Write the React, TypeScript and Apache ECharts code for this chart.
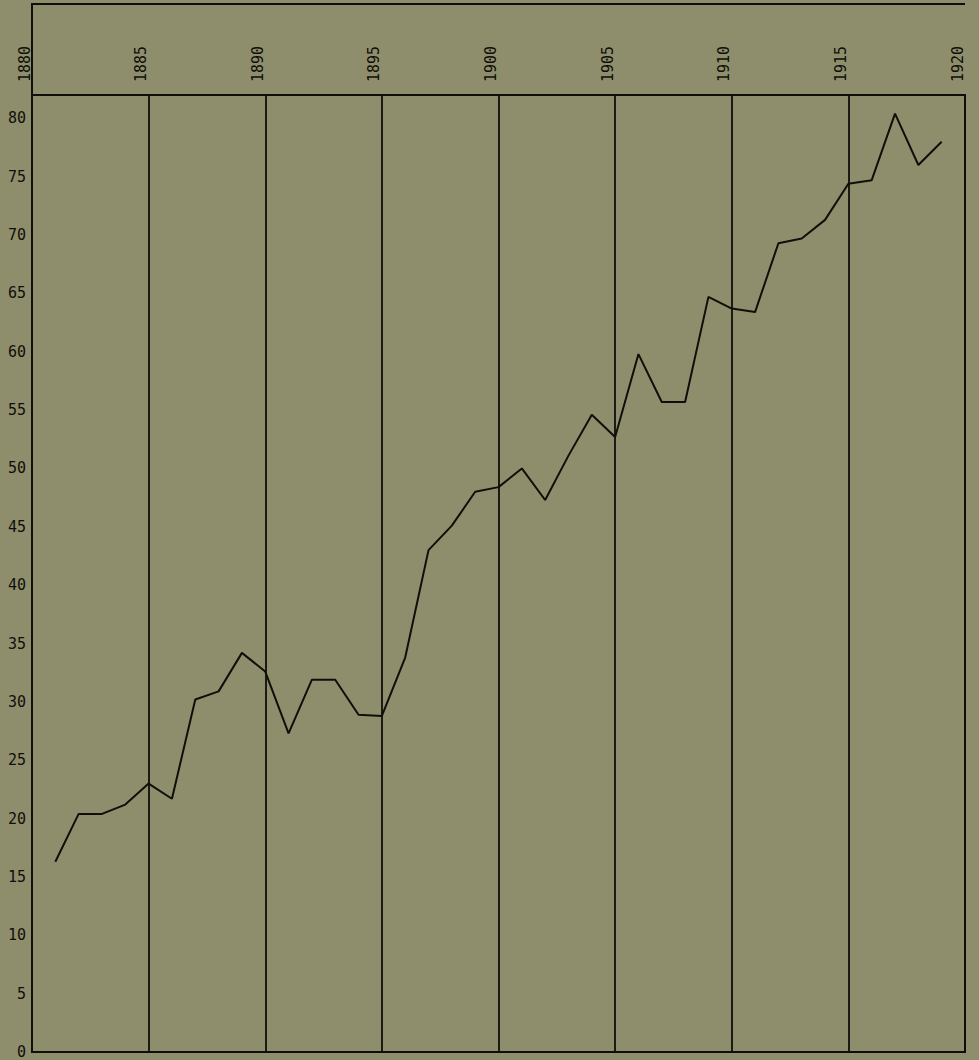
import React, { useEffect, useRef } from "react";
import * as echarts from "echarts";

const years = [
  1881, 1882, 1883, 1884, 1885, 1886, 1887, 1888, 1889, 1890,
  1891, 1892, 1893, 1894, 1895, 1896, 1897, 1898, 1899, 1900,
  1901, 1902, 1903, 1904, 1905, 1906, 1907, 1908, 1909, 1910,
  1911, 1912, 1913, 1914, 1915, 1916, 1917, 1918, 1919,
];
const values = [
  16.3, 20.4, 20.4, 21.2, 23.0, 21.7, 30.2, 30.9, 34.2, 32.6,
  27.3, 31.9, 31.9, 28.9, 28.8, 33.8, 43.0, 45.1, 48.0, 48.4,
  50.0, 47.3, 51.1, 54.6, 52.7, 59.8, 55.7, 55.7, 64.7, 63.7,
  63.4, 69.3, 69.7, 71.3, 74.4, 74.7, 80.4, 76.0, 78.0,
];
const xMin = 1880;
const xMax = 1920;
const xStep = 5;
const yMin = 0;
const yMax = 82;
const yStep = 5;

const INK = "#0f0f0a";
const FONT = "'DejaVu Sans Mono', 'Liberation Mono', monospace";

export default function App() {
  const ref = useRef<HTMLDivElement>(null);
  useEffect(() => {
    if (!ref.current) return;
    const chart = echarts.init(ref.current, null, { renderer: "svg" });
    const W = 979;
    const gridLeft = 32;
    const gridRight = 14;
    const gridTop = 95;
    const gridBottom = 8;
    chart.setOption({
      animation: false,
      backgroundColor: "#8f8e6c",
      grid: {
        left: gridLeft,
        right: gridRight,
        top: gridTop,
        bottom: gridBottom,
        show: true,
        borderColor: INK,
        borderWidth: 2,
        backgroundColor: "transparent",
      },
      xAxis: {
        type: "value",
        position: "top",
        min: xMin,
        max: xMax,
        interval: xStep,
        axisLine: { show: true, lineStyle: { color: INK, width: 2 } },
        axisTick: { show: false },
        splitLine: { show: true, lineStyle: { color: INK, width: 1.8 } },
        axisLabel: {
          rotate: 90,
          margin: 13,
          verticalAlign: "bottom",
          color: INK,
          fontFamily: FONT,
          fontSize: 15,
          formatter: (v: number) => String(v),
        },
      },
      yAxis: {
        type: "value",
        min: yMin,
        max: yMax,
        interval: yStep,
        axisLine: { show: true, lineStyle: { color: INK, width: 2 } },
        axisTick: { show: false },
        splitLine: { show: false },
        axisLabel: {
          margin: 6,
          color: INK,
          fontFamily: FONT,
          fontSize: 15,
          showMaxLabel: false,
          formatter: (v: number) => (v % 5 === 0 ? String(v) : ""),
        },
      },
      graphic: [
        {
          type: "polyline",
          shape: {
            points: [
              [gridLeft, gridTop],
              [gridLeft, 4],
              [W - gridRight, 4],
            ],
          },
          style: { stroke: INK, lineWidth: 2, fill: "none" },
          silent: true,
        },
      ],
      series: [
        {
          type: "line",
          data: years.map((y, i) => [y, values[i]]),
          showSymbol: false,
          symbol: "none",
          lineStyle: { color: INK, width: 2 },
        },
      ],
    });
    return () => chart.dispose();
  }, []);
  return (
    <div
      ref={ref}
      style={{ position: "absolute", left: 0, top: 0, width: 979, height: 1060 }}
    />
  );
}
